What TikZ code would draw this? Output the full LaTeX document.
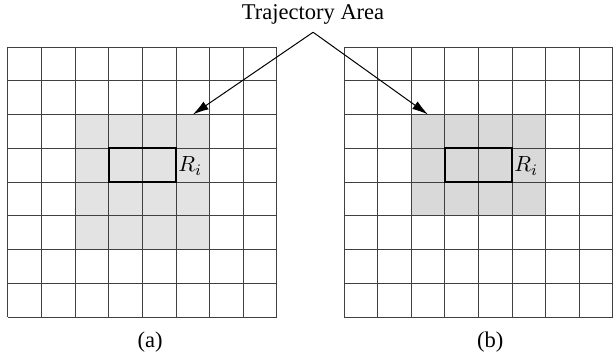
\documentclass[tikz,border=0pt]{standalone}
\usepackage[no-math]{fontspec}
\setmainfont{Liberation Serif}
\usetikzlibrary{arrows.meta}

\begin{document}
\begin{tikzpicture}[x=16.8pt, y=16.875pt, every node/.style={font=\fontsize{11.25}{13}\selectfont}, >={Latex[length=8pt,width=4.6pt]}]
	\useasboundingbox (-0.238,-1.244) rectangle (18.006,9.393);
	% panel (a)
	\fill[gray!22] (2,2) rectangle (6,6);
	\draw[black!75, line width=0.5pt, step={(1,1)}] (0,0) grid (8,8);
	\draw[line width=1pt] (3,4) rectangle (5,5);
	\node[anchor=base west, inner sep=1pt] (Ra) at (5,4.3) {$R_i$};
	\node[anchor=base] (capa) at (4.23,-0.89) {(a)};
	% panel (b)
	\fill[gray!30] (12,3) rectangle (16,6);
	\draw[black!75, line width=0.5pt, step={(1,1)}] (10,0) grid (18,8);
	\draw[line width=1pt] (13,4) rectangle (15,5);
	\node[anchor=base west, inner sep=1pt] (Rb) at (15,4.3) {$R_i$};
	\node[anchor=base] (capb) at (14.35,-0.89) {(b)};
	% label and arrows
	\node[anchor=base, inner sep=4pt] (traj) at (9.08,8.83) {Trajectory Area};
	\coordinate (tipa) at (5.5,6);
	\coordinate (tipb) at (12.5,6);
	\draw[->, line width=0.5pt] (traj.south) -- (tipa);
	\draw[->, line width=0.5pt] (traj.south) -- (tipb);
\end{tikzpicture}
\end{document}
